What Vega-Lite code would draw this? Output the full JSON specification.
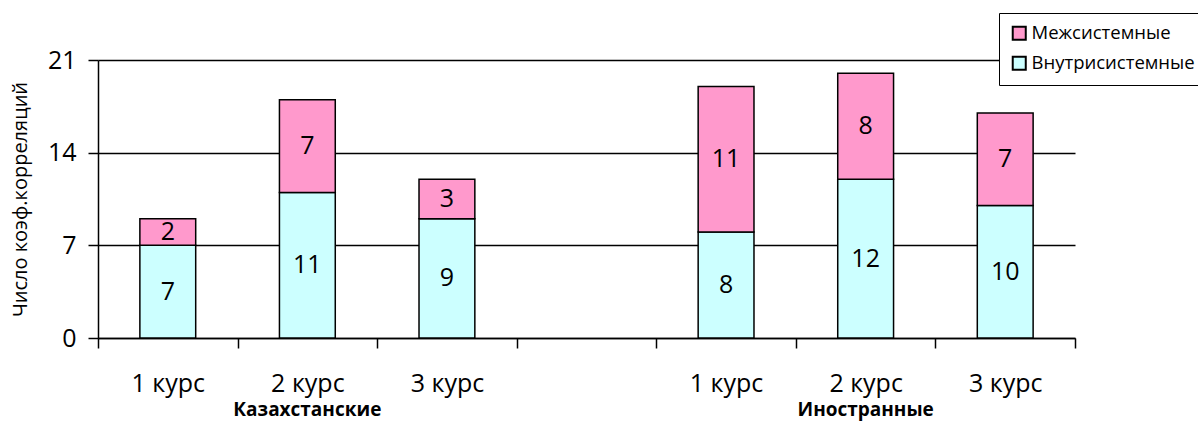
{
  "$schema": "https://vega.github.io/schema/vega-lite/v6.json",
  "width": 977,
  "height": 278,
  "autosize": {"type": "none"},
  "padding": {"left": 98, "top": 60, "right": 123, "bottom": 103},
  "background": "white",
  "config": {
    "font": "Open Sans",
    "view": {"stroke": null},
    "axis": {"labelColor": "black", "titleColor": "black", "domainColor": "black", "tickColor": "black"}
  },
  "data": {
    "values": [
      {"group": "К1", "type": "Внутрисистемные", "value": 7},
      {"group": "К1", "type": "Межсистемные", "value": 2},
      {"group": "К2", "type": "Внутрисистемные", "value": 11},
      {"group": "К2", "type": "Межсистемные", "value": 7},
      {"group": "К3", "type": "Внутрисистемные", "value": 9},
      {"group": "К3", "type": "Межсистемные", "value": 3},
      {"group": "И1", "type": "Внутрисистемные", "value": 8},
      {"group": "И1", "type": "Межсистемные", "value": 11},
      {"group": "И2", "type": "Внутрисистемные", "value": 12},
      {"group": "И2", "type": "Межсистемные", "value": 8},
      {"group": "И3", "type": "Внутрисистемные", "value": 10},
      {"group": "И3", "type": "Межсистемные", "value": 7}
    ]
  },
  "transform": [
    {"stack": "value", "groupby": ["group"], "sort": [{"field": "type", "order": "ascending"}], "as": ["v0", "v1"]},
    {"calculate": "(datum.v0 + datum.v1) / 2", "as": "vmid"}
  ],
  "resolve": {"axis": {"x": "independent"}},
  "layer": [
    {
      "mark": {"type": "bar", "width": {"band": 0.4}, "stroke": "black", "strokeWidth": 1.5},
      "encoding": {
        "x": {
          "field": "group", "type": "nominal",
          "scale": {"domain": ["К1", "К2", "К3", "gap", "И1", "И2", "И3"], "paddingInner": 0, "paddingOuter": 0},
          "axis": {
            "orient": "bottom",
            "title": null,
            "labelAngle": 0,
            "labelExpr": "indexof(['К1','К2','К3','И1','И2','И3'], datum.value) < 0 ? '' : substring(datum.value, 1) + ' курс'",
            "labelFontSize": 25,
            "labelPadding": 23,
            "labelOverlap": false,
            "tickBand": "extent",
            "tickSize": 10,
            "tickWidth": 1.5,
            "domainWidth": 1.5,
            "grid": false
          }
        },
        "y": {
          "field": "v0", "type": "quantitative",
          "scale": {"domain": [0, 21], "nice": false},
          "axis": {
            "title": "Число коэф.корреляций",
            "titleFontSize": 20,
            "titleFontWeight": "normal",
            "titlePadding": 17,
            "values": [0, 7, 14, 21],
            "labelFontSize": 25,
            "labelPadding": 12,
            "tickSize": 10,
            "tickWidth": 1.5,
            "domainWidth": 1.5,
            "grid": true,
            "gridColor": "black",
            "gridWidth": 1.5,
            "gridOpacity": 1
          }
        },
        "y2": {"field": "v1"},
        "color": {
          "field": "type", "type": "nominal",
          "scale": {"domain": ["Межсистемные", "Внутрисистемные"], "range": ["#FF99CC", "#CCFFFF"]},
          "legend": {
            "title": null,
            "orient": "none",
            "legendX": 901,
            "legendY": -47,
            "direction": "vertical",
            "symbolType": "square",
            "symbolSize": 170,
            "symbolStrokeColor": "black",
            "symbolStrokeWidth": 2,
            "labelFontSize": 18.5,
            "labelOffset": 3,
            "labelLimit": 400,
            "labelColor": "black",
            "rowPadding": 8,
            "padding": 11,
            "strokeColor": "black",
            "fillColor": "white"
          }
        }
      }
    },
    {
      "mark": {"type": "text", "fontSize": 25, "color": "black", "baseline": "middle", "align": "center"},
      "encoding": {
        "x": {
          "field": "group", "type": "nominal",
          "axis": {
            "orient": "bottom",
            "title": null,
            "labelAngle": 0,
            "labelExpr": "datum.value == 'К2' ? 'Казахстанские' : datum.value == 'И2' ? 'Иностранные' : ''",
            "labelFontSize": 19,
            "labelFontWeight": "bold",
            "labelPadding": 62,
            "ticks": false,
            "tickSize": 0,
            "domain": false,
            "grid": false,
            "labelOverlap": false
          }
        },
        "y": {"field": "vmid", "type": "quantitative"},
        "text": {"field": "value", "type": "quantitative"}
      }
    }
  ]
}
